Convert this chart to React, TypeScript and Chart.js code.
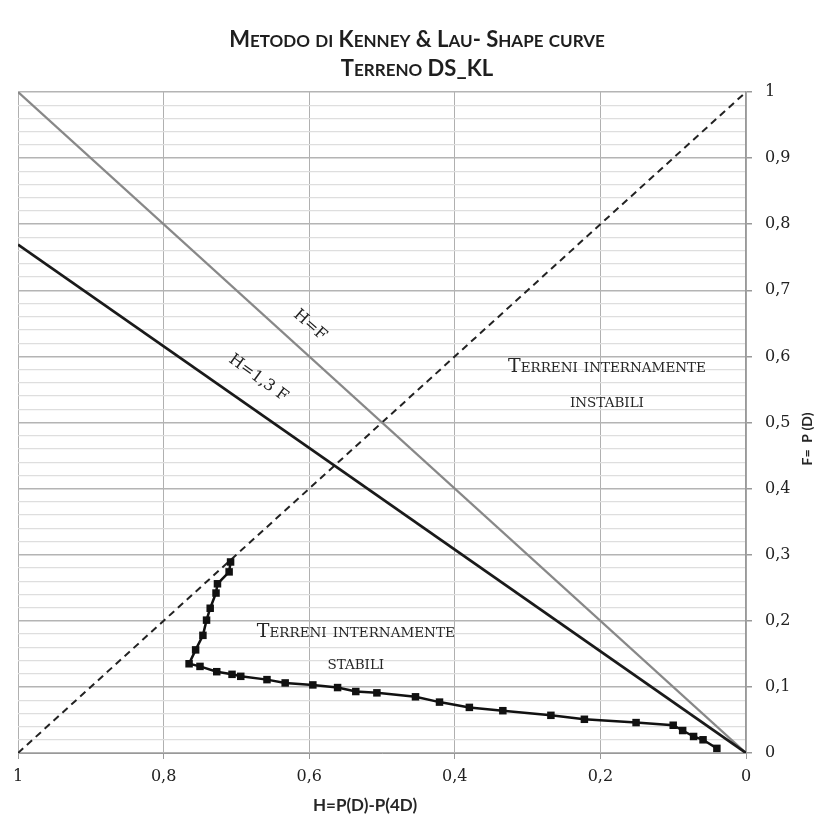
import React, { useEffect, useRef } from 'react';
import { Chart, registerables } from 'chart.js';

Chart.register(...registerables);

// Grain-size shape curve: H = P(D) - P(4D) against F = P(D)
const curveH = [
  0.708, 0.71, 0.726, 0.728, 0.736, 0.741, 0.746, 0.756, 0.765, 0.75, 0.727,
  0.706, 0.694, 0.658, 0.633, 0.595, 0.561, 0.536, 0.507, 0.454, 0.421, 0.38,
  0.334, 0.268, 0.222, 0.151, 0.1, 0.087, 0.072, 0.059, 0.04,
];
const curveF = [
  0.289, 0.274, 0.256, 0.242, 0.219, 0.201, 0.178, 0.156, 0.135, 0.131, 0.123,
  0.119, 0.116, 0.111, 0.106, 0.103, 0.099, 0.093, 0.091, 0.085, 0.077, 0.069,
  0.064, 0.057, 0.051, 0.046, 0.042, 0.034, 0.025, 0.02, 0.007,
];

// Stability boundaries H = F and H = 1,3 F, plus the H + F = 1 diagonal
const lineHF_H = [1, 0];
const lineHF_F = [1, 0];
const line13_H = [1, 0];
const line13_F = [1 / 1.3, 0];
const diagH = [1, 0];
const diagF = [0, 1];

const titleLines = ['Metodo di Kenney & Lau- Shape curve', 'Terreno DS_KL'];
const xTitle = 'H=P(D)-P(4D)';
const yTitle = 'F=  P (D)';
const unstableText = ['Terreni internamente', 'instabili'];
const stableText = ['Terreni internamente', 'stabili'];

const SANS = 'Lato, "Open Sans", sans-serif';
const SERIF = '"DejaVu Serif", "Liberation Serif", serif';

const pts = (xs: number[], ys: number[]) => xs.map((x, i) => ({ x, y: ys[i] }));
const fmt = (v: number) => (v === 0 ? '0' : v === 1 ? '1' : v.toFixed(1).replace('.', ','));
const isMajor = (v: number) => Math.abs(v * 10 - Math.round(v * 10)) < 1e-6;

function drawSmallCaps(
  ctx: CanvasRenderingContext2D,
  text: string,
  cx: number,
  baseline: number,
  big: number,
  small: number,
  family: string,
  weight: string
) {
  const runs: { s: string; small: boolean }[] = [];
  for (const ch of text) {
    const lower = ch !== ch.toUpperCase();
    const last = runs[runs.length - 1];
    const c = lower ? ch.toUpperCase() : ch;
    if (last && last.small === lower) last.s += c;
    else runs.push({ s: c, small: lower });
  }
  let total = 0;
  const widths = runs.map((r) => {
    ctx.font = `${weight} ${r.small ? small : big}px ${family}`;
    const w = ctx.measureText(r.s).width;
    total += w;
    return w;
  });
  let x = cx - total / 2;
  ctx.textAlign = 'left';
  ctx.textBaseline = 'alphabetic';
  runs.forEach((r, i) => {
    ctx.font = `${weight} ${r.small ? small : big}px ${family}`;
    ctx.fillText(r.s, x, baseline);
    x += widths[i];
  });
}

const textPlugin = {
  id: 'chartText',
  afterDraw(chart: any) {
    const { ctx, scales } = chart;
    const xs = scales.x;
    const ys = scales.y;
    const px = (h: number) => xs.getPixelForValue(h);
    const py = (f: number) => ys.getPixelForValue(f);
    ctx.save();

    // title
    ctx.fillStyle = '#1e1e1e';
    drawSmallCaps(ctx, titleLines[0], 417, 47, 22, 17, SANS, 'bold');
    drawSmallCaps(ctx, titleLines[1], 417, 76, 22, 17, SANS, 'bold');

    // region labels
    ctx.fillStyle = '#262626';
    drawSmallCaps(ctx, unstableText[0], px(0.191), py(0.576), 19, 13.5, SERIF, 'normal');
    drawSmallCaps(ctx, unstableText[1], px(0.191), py(0.523), 19, 13.5, SERIF, 'normal');
    drawSmallCaps(ctx, stableText[0], px(0.536), py(0.175), 19, 13.5, SERIF, 'normal');
    drawSmallCaps(ctx, stableText[1], px(0.536), py(0.127), 19, 13.5, SERIF, 'normal');

    // labels along the boundary lines
    ctx.fillStyle = '#222';
    ctx.font = `16px ${SERIF}`;
    ctx.textAlign = 'center';
    ctx.textBaseline = 'middle';
    ctx.save();
    ctx.translate(px(0.599), py(0.647));
    ctx.rotate((41 * Math.PI) / 180);
    ctx.fillText('H=F', 0, 0);
    ctx.restore();
    ctx.save();
    ctx.translate(px(0.67), py(0.567));
    ctx.rotate((36 * Math.PI) / 180);
    ctx.fillText('H=1,3 F', 0, 0);
    ctx.restore();

    // axis titles
    ctx.fillStyle = '#262626';
    ctx.font = `bold 17px ${SANS}`;
    ctx.textAlign = 'center';
    ctx.textBaseline = 'middle';
    ctx.fillText(xTitle, 365, 806);
    ctx.save();
    ctx.translate(807, 439);
    ctx.rotate(-Math.PI / 2);
    ctx.font = `bold 14px ${SANS}`;
    ctx.fillText(yTitle, 0, 0);
    ctx.restore();

    ctx.restore();
  },
};

export default function App() {
  const ref = useRef<HTMLCanvasElement>(null);

  useEffect(() => {
    const chart = new Chart(ref.current!, {
      type: 'scatter',
      data: {
        datasets: [
          {
            label: 'Shape curve',
            data: pts(curveH, curveF),
            showLine: true,
            borderColor: '#111',
            borderWidth: 2.5,
            pointStyle: 'rect',
            pointRadius: 5.3,
            pointBackgroundColor: '#111',
            pointBorderWidth: 0,
            order: 0,
          },
          {
            label: 'H=1,3 F',
            data: pts(line13_H, line13_F),
            showLine: true,
            borderColor: '#1a1a1a',
            borderWidth: 2.7,
            pointRadius: 0,
            order: 1,
          },
          {
            label: 'H=F',
            data: pts(lineHF_H, lineHF_F),
            showLine: true,
            borderColor: '#888',
            borderWidth: 2.3,
            pointRadius: 0,
            order: 2,
          },
          {
            label: 'H+F=1',
            data: pts(diagH, diagF),
            showLine: true,
            borderColor: '#222',
            borderWidth: 2,
            borderDash: [7, 5],
            pointRadius: 0,
            order: 3,
          },
        ],
      },
      options: {
        responsive: false,
        animation: false,
        events: [],
        layout: { padding: { left: 18, top: 92, right: 0, bottom: 0 } },
        plugins: { legend: { display: false }, tooltip: { enabled: false } },
        scales: {
          x: {
            type: 'linear',
            position: 'bottom',
            min: 0,
            max: 1,
            reverse: true,
            afterFit: (s: any) => {
              s.height = 65;
            },
            ticks: {
              stepSize: 0.2,
              autoSkip: false,
              maxRotation: 0,
              padding: 8,
              color: '#222',
              font: { family: SERIF, size: 16 },
              callback: (v: any) => fmt(Number(v)),
            },
            grid: { color: '#b0b0b0', lineWidth: 1, tickLength: 6, tickColor: '#999' },
            border: { color: '#999', width: 1 },
          },
          y: {
            type: 'linear',
            position: 'right',
            min: 0,
            max: 1,
            afterFit: (s: any) => {
              s.width = 72;
            },
            ticks: {
              stepSize: 0.02,
              autoSkip: false,
              padding: 13,
              color: '#222',
              font: { family: SERIF, size: 16 },
              callback: (v: any) => (isMajor(Number(v)) ? fmt(Number(v)) : ''),
            },
            grid: {
              color: (c: any) => (c.tick && isMajor(c.tick.value) ? '#b4b4b4' : '#dedede'),
              lineWidth: (c: any) => (c.tick && isMajor(c.tick.value) ? 1.5 : 1.2),
              tickLength: 6,
              tickColor: (c: any) => (c.tick && isMajor(c.tick.value) ? '#999' : 'rgba(0,0,0,0)'),
            },
            border: { color: '#999', width: 1.5 },
          },
        },
      },
      plugins: [textPlugin],
    });
    return () => chart.destroy();
  }, []);

  return (
    <div style={{ position: 'absolute', left: 0, top: 0, width: 818, height: 818, background: '#fff' }}>
      <canvas ref={ref} width={818} height={818} style={{ display: 'block' }} />
    </div>
  );
}
